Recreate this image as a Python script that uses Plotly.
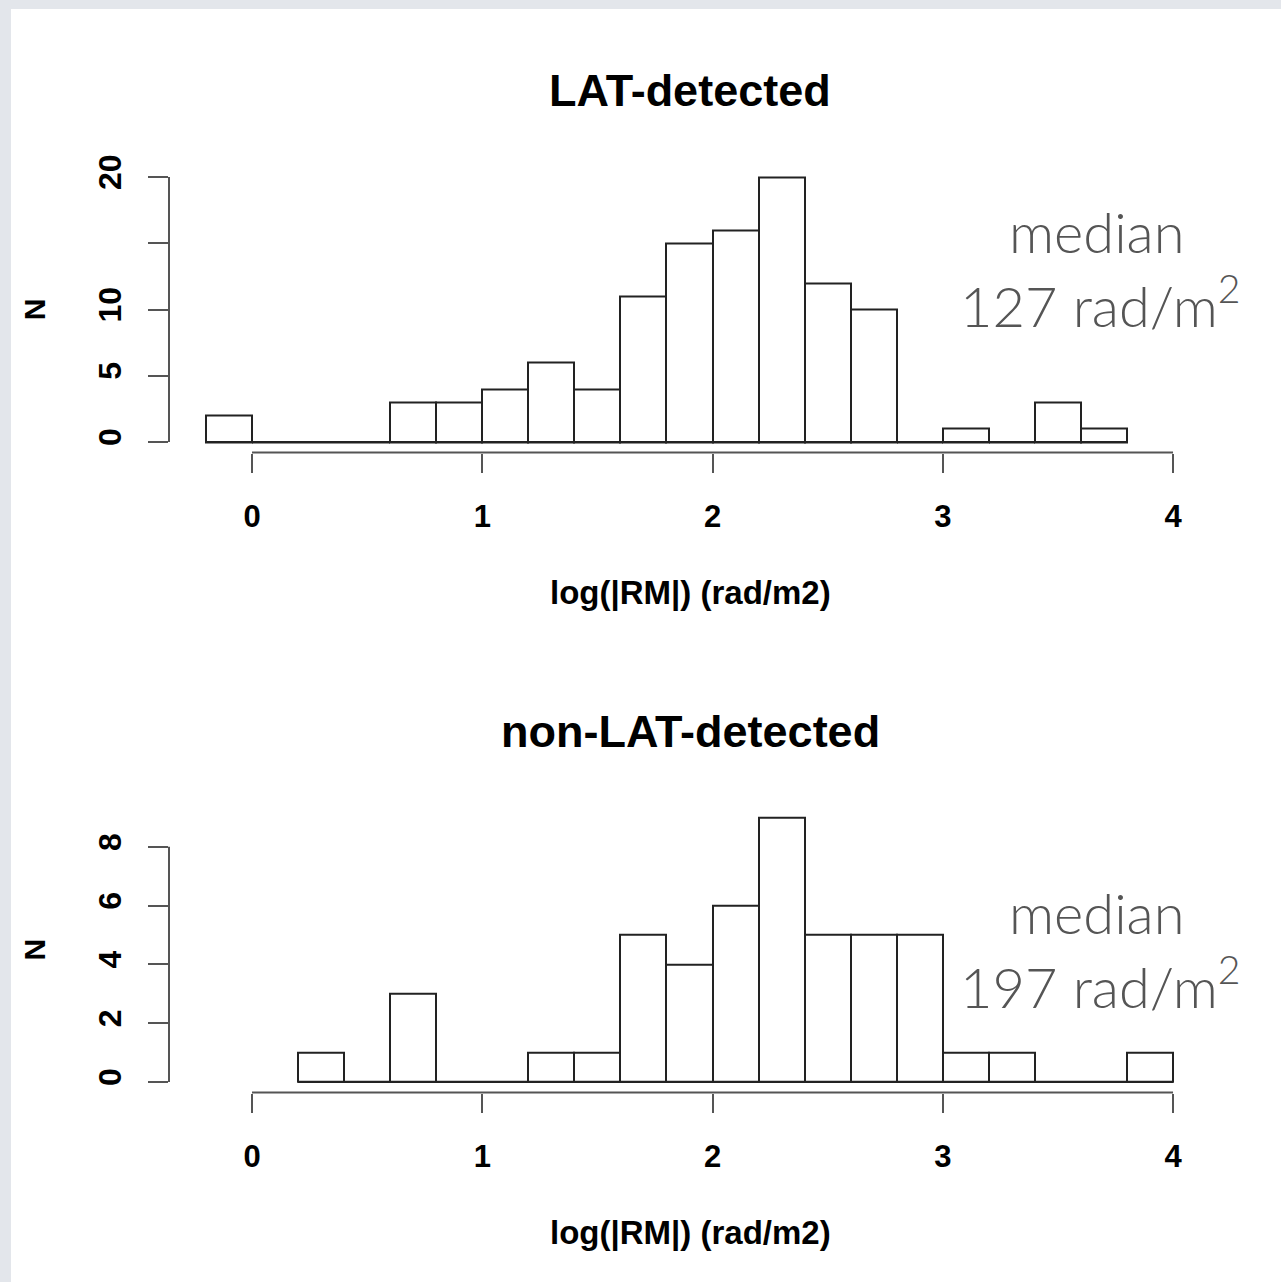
import plotly.graph_objects as go

# ---------------- data ----------------
bin_width = 0.2
top_bin_left = [-0.2, 0.0, 0.2, 0.4, 0.6, 0.8, 1.0, 1.2, 1.4, 1.6,
                1.8, 2.0, 2.2, 2.4, 2.6, 2.8, 3.0, 3.2, 3.4, 3.6]
top_counts = [2, 0, 0, 0, 3, 3, 4, 6, 4, 11,
              15, 16, 20, 12, 10, 0, 1, 0, 3, 1]

bot_bin_left = [0.2, 0.4, 0.6, 0.8, 1.0, 1.2, 1.4, 1.6, 1.8,
                2.0, 2.2, 2.4, 2.6, 2.8, 3.0, 3.2, 3.4, 3.6, 3.8]
bot_counts = [1, 0, 3, 0, 0, 1, 1, 5, 4,
              6, 9, 5, 5, 5, 1, 1, 0, 0, 1]

x_ticks = [0, 1, 2, 3, 4]
top_y_labeled = [0, 5, 10, 20]
top_y_unlabeled = [15]
bot_y_labeled = [0, 2, 4, 6, 8]

titles = ["LAT-detected", "non-LAT-detected"]
x_title = "log(|RM|) (rad/m2)"
y_title = "N"
medians = ["127", "197"]

# ---------------- layout helpers ----------------
W, H = 1281, 1282
def px(x):
    return x / W
def py(y):
    return 1 - y / H

BAR_LINE = "#222222"
AXIS_COL = "#555555"
FONT = "Liberation Sans, Arial, sans-serif"

fig = go.Figure()

def add_hist(lefts, counts, xa, ya):
    centers = [l + bin_width / 2 for l in lefts]
    fig.add_trace(go.Bar(
        x=centers, y=counts, width=bin_width,
        marker=dict(color="white", line=dict(color=BAR_LINE, width=2)),
        xaxis=xa, yaxis=ya, showlegend=False, hoverinfo="x+y"))
    fig.add_trace(go.Scatter(
        x=[lefts[0], lefts[-1] + bin_width], y=[0, 0], mode="lines",
        line=dict(color=BAR_LINE, width=2), xaxis=xa, yaxis=ya,
        showlegend=False, hoverinfo="skip"))

add_hist(top_bin_left, top_counts, "x", "y")
add_hist(bot_bin_left, bot_counts, "x2", "y2")

x_range = [-0.3605, 4.168]
x_dom = [px(169), px(1211.7)]

tick_font = dict(family=FONT, size=31, color="black", weight="bold")
title_font = dict(family=FONT, size=33, color="black", weight="bold")

common_x = dict(range=x_range, domain=x_dom, showgrid=False, zeroline=False,
                showline=False, ticks="outside", ticklen=19, tickwidth=2,
                tickcolor=AXIS_COL, tickvals=x_ticks, tickfont=tick_font,
                ticklabelstandoff=17, fixedrange=True,
                title=dict(text=x_title, font=title_font, standoff=48))
common_y = dict(showgrid=False, zeroline=False, showline=False, ticks="outside",
                ticklen=20, tickwidth=2, tickcolor=AXIS_COL, tickangle=-90,
                tickfont=dict(family=FONT, size=32, color="black", weight="bold"),
                ticklabelstandoff=14, fixedrange=True,
                title=dict(text=y_title, font=dict(family=FONT, size=30, color="black",
                                                    weight="bold"), standoff=37))

fig.update_layout(
    width=W, height=H,
    margin=dict(l=0, r=0, t=0, b=0, pad=0, autoexpand=False),
    paper_bgcolor="#e3e6eb",
    plot_bgcolor="rgba(0,0,0,0)",
    bargap=0,
    xaxis=dict(anchor="y", **common_x),
    yaxis=dict(anchor="x", domain=[py(452.6), py(166.4)], range=[-0.8, 20.8],
               tickvals=top_y_labeled,
               minor=dict(tickmode="array", tickvals=top_y_unlabeled, ticks="outside",
                          ticklen=20, tickwidth=2, tickcolor=AXIS_COL, showgrid=False),
               **common_y),
    xaxis2=dict(anchor="y2", **common_x),
    yaxis2=dict(anchor="x2", domain=[py(1092.6), py(806.8)], range=[-0.36, 9.36],
                tickvals=bot_y_labeled, **common_y),
)

shapes = [
    # white page
    dict(type="rect", xref="paper", yref="paper", x0=px(11), x1=1, y0=0, y1=py(9),
         fillcolor="white", line=dict(width=0), layer="below"),
]
for xa, ya, y_lo, y_hi in [("x", "y", 0, 20), ("x2", "y2", 0, 8)]:
    shapes.append(dict(type="line", xref=xa, yref=ya + " domain",
                       x0=x_ticks[0], x1=x_ticks[-1], y0=0, y1=0,
                       line=dict(color=AXIS_COL, width=2)))
    shapes.append(dict(type="line", xref=xa + " domain", yref=ya,
                       x0=0, x1=0, y0=y_lo, y1=y_hi,
                       line=dict(color=AXIS_COL, width=2)))
fig.update_layout(shapes=shapes)

ann = []
title_y = [90, 731]
med_y = [231, 912]
val_y = [301, 982]
for i in range(2):
    ann.append(dict(text="<b>" + titles[i] + "</b>", x=px(690), y=py(title_y[i]),
                    xref="paper", yref="paper", showarrow=False,
                    font=dict(family=FONT, size=45, color="black"),
                    xanchor="center", yanchor="middle"))
    ann.append(dict(text="median", x=px(1097), y=py(med_y[i]),
                    xref="paper", yref="paper", showarrow=False,
                    font=dict(family="Lato", size=56, color="#555555", weight=300),
                    xanchor="center", yanchor="middle"))
    ann.append(dict(text=medians[i] + " rad/m<sup>2</sup>", x=px(1100), y=py(val_y[i]),
                    xref="paper", yref="paper", showarrow=False,
                    font=dict(family="Lato", size=56, color="#555555", weight=300),
                    xanchor="center", yanchor="middle"))
fig.update_layout(annotations=ann)

fig.write_html("out.html")
